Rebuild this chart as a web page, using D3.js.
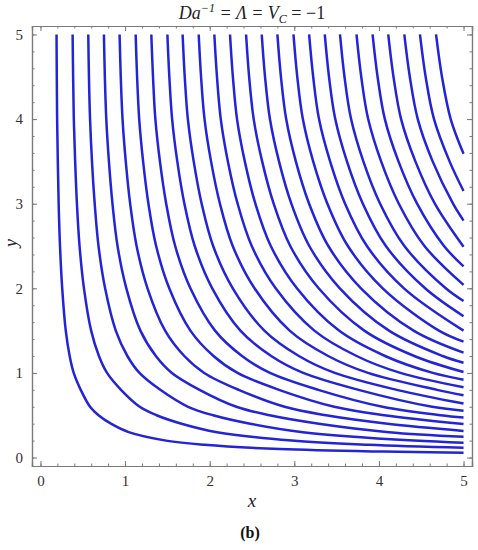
<!DOCTYPE html>
<html lang="en">
<head>
<meta charset="UTF-8">
<title>Streamlines</title>
<style>
  body { margin: 0; background: #fff; }
  text { font-family: "Liberation Serif", "Times New Roman", serif; }
</style>
</head>
<body>
<div id="graphique"></div>
<script src="https://d3js.org/d3.v7.min.js"></script>
<script>

// heights at which each streamline was read, top to bottom
let yLevels = [5, 4.5, 4, 3.5, 3, 2.5, 2, 1.5, 1.2, 1, 0.8, 0.6, 0.5, 0.4, 0.3, 0.2, 0.15, 0.1, 0.07];

// x of each streamline at those heights (a row stops when the line leaves through x = 5)
let curveX = [
  [0.19, 0.193, 0.197, 0.205, 0.215, 0.231, 0.257, 0.299, 0.345, 0.393, 0.476, 0.586, 0.686, 0.833, 1.043, 1.484, 1.938, 2.831, 4.047],
  [0.38, 0.386, 0.394, 0.41, 0.431, 0.462, 0.514, 0.599, 0.691, 0.787, 0.952, 1.173, 1.372, 1.667, 2.086, 2.968, 3.876],
  [0.565, 0.573, 0.586, 0.609, 0.641, 0.686, 0.764, 0.89, 1.027, 1.17, 1.416, 1.744, 2.040, 2.478, 3.102, 4.413],
  [0.75, 0.761, 0.778, 0.809, 0.851, 0.911, 1.015, 1.181, 1.364, 1.553, 1.88, 2.315, 2.708, 3.29, 4.118],
  [0.935, 0.949, 0.97, 1.008, 1.06, 1.136, 1.265, 1.473, 1.70, 1.935, 2.343, 2.885, 3.375, 4.101],
  [1.125, 1.142, 1.167, 1.213, 1.276, 1.367, 1.522, 1.772, 2.045, 2.329, 2.819, 3.472, 4.061],
  [1.31, 1.33, 1.358, 1.412, 1.486, 1.592, 1.772, 2.063, 2.382, 2.712, 3.283, 4.043, 4.729],
  [1.50, 1.523, 1.556, 1.617, 1.701, 1.823, 2.03, 2.363, 2.727, 3.105, 3.759, 4.629],
  [1.68, 1.705, 1.742, 1.811, 1.905, 2.041, 2.273, 2.646, 3.054, 3.478, 4.21],
  [1.87, 1.898, 1.939, 2.016, 2.121, 2.272, 2.53, 2.945, 3.4, 3.871, 4.686],
  [2.055, 2.086, 2.131, 2.215, 2.33, 2.497, 2.78, 3.237, 3.736, 4.254],
  [2.24, 2.274, 2.323, 2.415, 2.54, 2.722, 3.031, 3.528, 4.072, 4.637],
  [2.43, 2.466, 2.52, 2.62, 2.756, 2.952, 3.288, 3.827, 4.418],
  [2.615, 2.654, 2.712, 2.819, 2.965, 3.177, 3.538, 4.119, 4.754],
  [2.80, 2.842, 2.904, 3.018, 3.175, 3.402, 3.788, 4.41],
  [2.99, 3.035, 3.101, 3.223, 3.391, 3.633, 4.045, 4.709],
  [3.175, 3.223, 3.292, 3.423, 3.6, 3.858, 4.296],
  [3.36, 3.41, 3.484, 3.622, 3.81, 4.082, 4.546],
  [3.54, 3.593, 3.671, 3.816, 4.014, 4.301, 4.79],
  [3.735, 3.791, 3.873, 4.026, 4.235, 4.538],
  [3.925, 3.984, 4.07, 4.231, 4.451, 4.769],
  [4.11, 4.172, 4.262, 4.431, 4.661],
  [4.30, 4.365, 4.459, 4.635, 4.876],
  [4.485, 4.552, 4.651, 4.835],
  [4.675, 4.745, 4.848]
];

// y where each streamline meets the right edge x = 5
let curveEnd = [0.057, 0.115, 0.175, 0.245, 0.315, 0.395, 0.473, 0.553, 0.638, 0.735, 0.83, 0.92, 1.01,
                1.12, 1.24, 1.37, 1.50, 1.67, 1.85, 2.04, 2.26, 2.49, 2.80, 3.15, 3.59];

let tickValues = [0, 1, 2, 3, 4, 5];

let W = 478, H = 550;
let frame = { left: 32, right: 472, top: 26, bottom: 466 };

let svg = d3.select('#graphique')
            .append('svg')
            .attr('width', W)
            .attr('height', H);

let x = d3.scaleLinear().domain([-0.1, 5.1]).range([frame.left, frame.right]);
let y = d3.scaleLinear().domain([-0.1, 5.1]).range([frame.bottom, frame.top]);

// streamlines
let lines = curveX.map(function(row, i){
    let pts = row.map(function(v, j){ return [v, yLevels[j]]; });
    pts.push([5, curveEnd[i]]);
    return pts;
});

svg.append('defs').append('clipPath').attr('id', 'clip')
   .append('rect')
   .attr('x', frame.left).attr('y', frame.top)
   .attr('width', frame.right - frame.left).attr('height', frame.bottom - frame.top);

svg.append('g')
   .attr('clip-path', 'url(#clip)')
   .selectAll('path')
   .data(lines)
   .enter()
   .append('path')
   .attr('fill', 'none')
   .attr('stroke', '#2323d8')
   .attr('stroke-width', 2.5)
   .attr('stroke-linecap', 'butt')
   .attr('d', d3.line()
                .x(function(d){ return x(d[0]); })
                .y(function(d){ return y(d[1]); })
                .curve(d3.curveCatmullRom.alpha(0.5)));

// frame with inward ticks on all sides
let frameColor = '#7a7a7a';
let minor = d3.range(0, 5.01, 0.2).map(function(v){ return +v.toFixed(1); });

let axeBottom = d3.axisBottom(x).tickValues(tickValues).tickSize(-5).tickPadding(9).tickFormat(d3.format('d'));
let axeBottomMinor = d3.axisBottom(x).tickValues(minor).tickSize(-2.5).tickFormat('');
let axeTop = d3.axisTop(x).tickValues(tickValues).tickSize(-5).tickFormat('');
let axeTopMinor = d3.axisTop(x).tickValues(minor).tickSize(-2.5).tickFormat('');
let axeLeft = d3.axisLeft(y).tickValues(tickValues).tickSize(-5).tickPadding(9).tickFormat(d3.format('d'));
let axeLeftMinor = d3.axisLeft(y).tickValues(minor).tickSize(-2.5).tickFormat('');
let axeRight = d3.axisRight(y).tickValues(tickValues).tickSize(-5).tickFormat('');
let axeRightMinor = d3.axisRight(y).tickValues(minor).tickSize(-2.5).tickFormat('');

function drawAxis(axe, tx, ty){
    let g = svg.append('g')
               .attr('transform', `translate(${tx}, ${ty})`)
               .call(axe);
    g.select('.domain').attr('stroke', frameColor).attr('stroke-width', 1.2);
    g.selectAll('.tick line').attr('stroke', frameColor).attr('stroke-width', 1);
    g.selectAll('.tick text')
     .attr('fill', '#333')
     .style('font-size', '15px')
     .style('font-family', '"Liberation Serif", serif');
    return g;
}

drawAxis(axeBottomMinor, 0, frame.bottom);
drawAxis(axeBottom, 0, frame.bottom);
drawAxis(axeTopMinor, 0, frame.top);
drawAxis(axeTop, 0, frame.top);
drawAxis(axeLeftMinor, frame.left, 0);
drawAxis(axeLeft, frame.left, 0);
drawAxis(axeRightMinor, frame.right, 0);
drawAxis(axeRight, frame.right, 0);

// title
let title = svg.append('text')
               .attr('x', 252)
               .attr('y', 19)
               .attr('text-anchor', 'middle')
               .attr('fill', '#222')
               .style('font-size', '18px')
               .style('font-style', 'italic');
title.append('tspan').text('Da');
title.append('tspan').attr('dy', -7).style('font-size', '12px').text('\u22121');
title.append('tspan').attr('dy', 7).text(' = \u039B = V');
title.append('tspan').attr('dy', 4).style('font-size', '12px').text('C');
title.append('tspan').attr('dy', -4).style('font-style', 'normal').text(' = \u22121');

// axis labels
svg.append('text')
   .attr('x', 252)
   .attr('y', 507)
   .attr('text-anchor', 'middle')
   .attr('fill', '#222')
   .style('font-size', '19px')
   .style('font-style', 'italic')
   .text('x');

svg.append('text')
   .attr('transform', 'translate(17, 243) rotate(-90)')
   .attr('text-anchor', 'middle')
   .attr('fill', '#222')
   .style('font-size', '18px')
   .style('font-style', 'italic')
   .text('y');

svg.append('text')
   .attr('x', 250)
   .attr('y', 538)
   .attr('text-anchor', 'middle')
   .attr('fill', '#111')
   .style('font-size', '16px')
   .style('font-weight', 'bold')
   .text('(b)');

</script>
</body>
</html>
